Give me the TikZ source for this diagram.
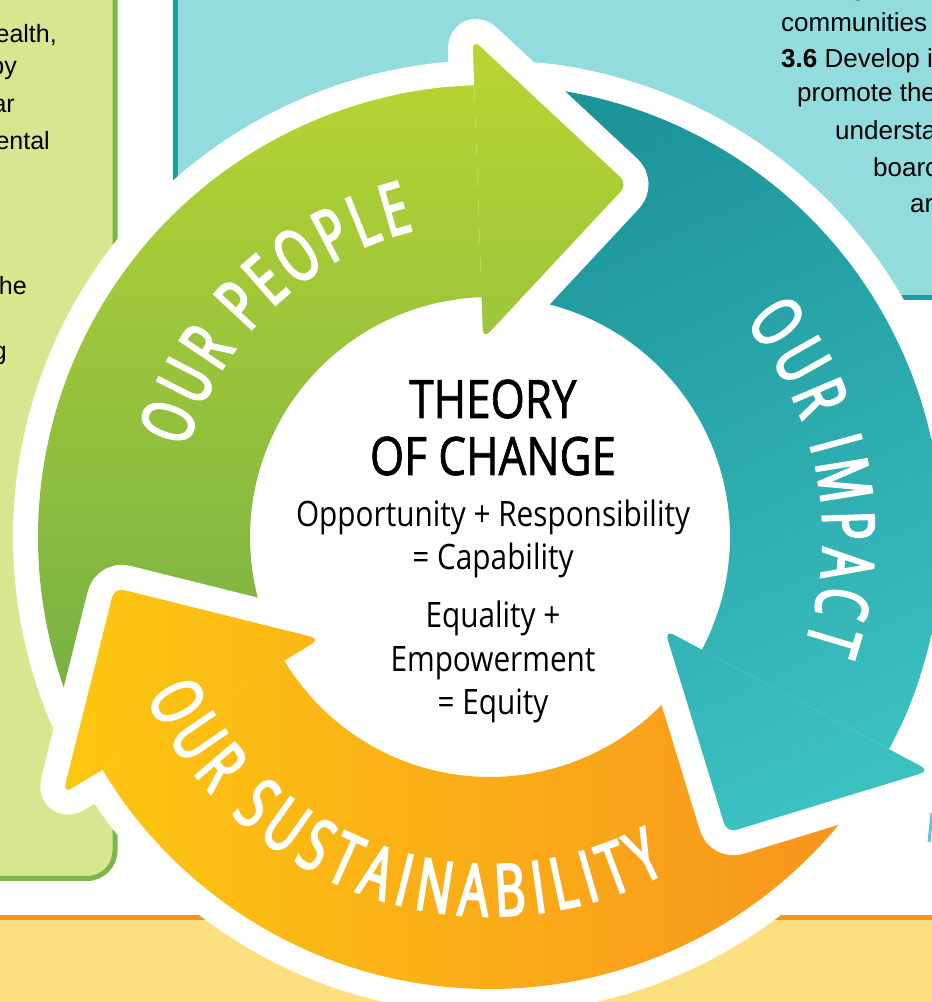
\documentclass[tikz,border=0pt]{standalone}
\usepackage{fontspec}
\setmainfont{Liberation Sans}
\newfontfamily\ctrfont[FakeStretch=0.85]{Open Sans}
\newfontfamily\hdfont[FakeStretch=0.83, FakeBold=1.2]{Open Sans}
\newfontfamily\lblfamily[FakeStretch=0.66, FakeBold=3]{Open Sans}
\newcommand\lblfont{\lblfamily\fontsize{72}{72}\selectfont}
\makeatletter
\newcommand\storew[1]{\setbox0\hbox{\lblfont #1}\expandafter\xdef\csname lw#1\endcsname{\strip@pt\wd0}}
\makeatother
\storew{O}\storew{U}\storew{R}\storew{P}\storew{E}\storew{L}\storew{I}\storew{M}
\storew{A}\storew{C}\storew{T}\storew{S}\storew{N}\storew{B}\storew{Y}
\expandafter\gdef\csname lw-\endcsname{10}
\definecolor{lgreen}{HTML}{D9E690}
\definecolor{dgreen}{HTML}{7AB648}
\definecolor{lteal}{HTML}{93DCDE}
\definecolor{dteal}{HTML}{1F9EA2}
\definecolor{band}{HTML}{FCDF7E}
\definecolor{bandline}{HTML}{F7941D}
\definecolor{gTop}{HTML}{BBD631}
\definecolor{gBot}{HTML}{74B046}
\definecolor{tA}{HTML}{1C949A}
\definecolor{tB}{HTML}{3CC1C1}
\definecolor{oA}{HTML}{FDC811}
\definecolor{oB}{HTML}{F7931E}
\definecolor{skyb}{HTML}{5BC2EC}
\newcommand\bodyp[2]{(#1:452) arc[start angle=#1, end angle=#2, radius=452] -- (#2:240) arc[start angle=#2, end angle=#1, radius=240] -- cycle}
\newcommand\headp[1]{(#1:198) -- (#1:498) -- ({#1-23.31}:378.95) -- cycle}
\newcommand\gshade{\shade[top color=gTop, bottom color=gBot] (-500,-190) rectangle (200,510);}
\newcommand\tshade{\shade[top color=tA, bottom color=tB, shading angle=25] (0,-320) rectangle (470,470);}
\newcommand\oshade{\shade[left color=oA, right color=oB] (-440,-510) rectangle (390,-30);}
% #1 radius, #2 mid angle, #3 sign, #4 spacing, #5 letters, #6 name prefix
\newcommand\arclabel[6]{%
  \gdef\arctot{0}%
  \foreach \ch in {#5}{%
    \edef\curw{\csname lw\ch\endcsname}%
    \pgfmathsetmacro\tmpv{\arctot+\curw+(#4)}%
    \xdef\arctot{\tmpv}%
  }%
  \pgfmathsetmacro\tmpv{#2+(#3)*(\arctot-(#4))/2/(#1)*57.29578}%
  \xdef\arccur{\tmpv}%
  \foreach \ch [count=\k] in {#5}{%
    \edef\curw{\csname lw\ch\endcsname}%
    \pgfmathsetmacro\thc{\arccur-(#3)*\curw/2/(#1)*57.29578}%
    \pgfmathsetmacro\rot{\thc-(#3)*90}%
    \node[lbl, rotate=\rot] (#6\k) at (\thc:#1) {\if\ch-\else\ch\fi};
    \pgfmathsetmacro\tmpv{\arccur-(#3)*(\curw+(#4))/(#1)*57.29578}%
    \xdef\arccur{\tmpv}%
  }%
}
\begin{document}
\begin{tikzpicture}[x=1pt,y=1pt,
  halo/.style={draw=white, fill=white, line width=50pt, line join=round},
  lbl/.style={text=white, font=\lblfont, inner sep=0pt, anchor=base},
  ctr/.style={text=black, inner sep=0pt, anchor=base},
  ctrbig/.style={ctr, font=\hdfont\fontsize{53}{53}\selectfont},
  ctrsmall/.style={ctr, font=\ctrfont\fontsize{35}{35}\selectfont},
  bgtxt/.style={text=black, inner sep=0pt, font=\fontsize{25}{25}\selectfont},
  bgtxtr/.style={text=black, inner sep=0pt, font=\fontsize{26}{26}\selectfont}]
\useasboundingbox (0,0) rectangle (932,1002);
\clip (0,0) rectangle (932,1002);
\fill[white] (0,0) rectangle (932,1002);
% background panels
\draw[fill=lgreen, draw=dgreen, line width=5pt, rounded corners=28pt] (-60,123.5) rectangle (115,1060);
\draw[fill=lteal, draw=dteal, line width=5pt] (175.5,704) rectangle (990,1060);
\fill[band] (-10,-10) rectangle (942,84.5);
\draw[bandline, line width=5pt] (-10,84.5) -- (942,84.5);
\draw[skyb, line width=3pt] (929,160) -- (932,189);
% background text
\node[bgtxt, anchor=base east] (l1) at (57,959) {ealth,};
\node[bgtxt, anchor=base east] (l2) at (17,927) {py};
\node[bgtxt, anchor=base east] (l3) at (15,889) {ar};
\node[bgtxt, anchor=base east] (l4) at (50,852) {ental};
\node[bgtxt, anchor=base east] (l5) at (27,707) {he};
\node[bgtxt, anchor=base east] (l6) at (7,642) {g};
\node[bgtxtr, anchor=base west] (r0) at (851,1006) {g};
\node[bgtxtr, anchor=base west] (r1) at (781,970) {communities};
\node[bgtxtr, anchor=base west] (r2) at (781,934) {\textbf{3.6} Develop i};
\node[bgtxtr, anchor=base west] (r3) at (797,900) {promote the};
\node[bgtxtr, anchor=base west] (r4) at (835,862) {understa};
\node[bgtxtr, anchor=base west] (r5) at (873,825) {boarc};
\node[bgtxtr, anchor=base west] (r6) at (910,789) {ar};
% ring
\begin{scope}[shift={(490,465)}]
  \fill[white] (0,0) circle[radius=250];
  \path[halo] \bodyp{92}{203};
  \path[halo] \bodyp{-28}{84};
  \path[halo] \bodyp{211}{324};
  \begin{scope}\clip \bodyp{92}{203}; \gshade\end{scope}
  \begin{scope}\clip \bodyp{-28}{84}; \tshade\end{scope}
  \begin{scope}\clip \bodyp{211}{324}; \oshade\end{scope}
  % heads
  \path[halo, rounded corners=10pt] \headp{92};
  \begin{scope}\clip[rounded corners=10pt] \headp{92}; \gshade\end{scope}
  \path[halo, rounded corners=10pt] \headp{-28};
  \begin{scope}\clip[rounded corners=10pt] \headp{-28}; \tshade\end{scope}
  \path[halo, rounded corners=10pt] \headp{211};
  \begin{scope}\clip[rounded corners=10pt] \headp{211}; \oshade\end{scope}
  % refill bodies behind heads
  \begin{scope}\clip \bodyp{92}{102}; \gshade\end{scope}
  \begin{scope}\clip \bodyp{-28}{-18}; \tshade\end{scope}
  \begin{scope}\clip \bodyp{211}{221}; \oshade\end{scope}
  % labels
  \arclabel{316}{133.75}{1}{5.2}{O,U,R,-,P,E,O,P,L,E}{pe}
  \arclabel{333}{10.55}{1}{6.8}{O,U,R,-,I,M,P,A,C,T}{im}
  \arclabel{379}{251.35}{-1}{8.6}{O,U,R,-,S,U,S,T,A,I,N,A,B,I,L,I,T,Y}{su}
\end{scope}
% center text
\node[ctrbig] (t1) at (493,584) {THEORY};
\node[ctrbig] (t2) at (493,527) {OF CHANGE};
\node[ctrsmall] (t3) at (493,475) {Opportunity + Responsibility};
\node[ctrsmall] (t4) at (493,432) {= Capability};
\node[ctrsmall] (t5) at (493,374) {Equality +};
\node[ctrsmall] (t6) at (493,330) {Empowerment};
\node[ctrsmall] (t7) at (493,287) {= Equity};
\end{tikzpicture}
\end{document}
